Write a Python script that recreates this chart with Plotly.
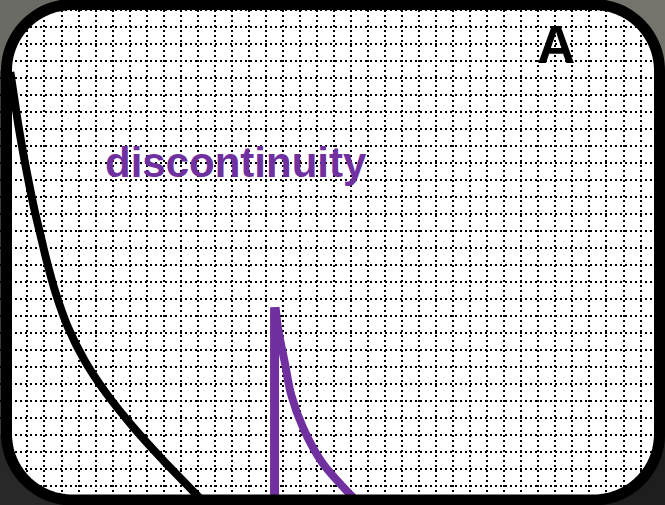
import numpy as np
import plotly.graph_objects as go

# ---- data (grid units: one grid cell = 1) ----
black_x = [-0.006, 0.153, 0.329, 0.564, 0.828, 1.110, 1.415, 1.767, 2.120, 2.660, 3.376, 4.345, 5.625, 7.222, 8.967, 10.845, 11.362]
black_y = [25.32, 24.27, 23.09, 21.62, 20.15, 18.69, 17.22, 15.75, 14.28, 12.34, 10.35, 8.41, 6.47, 4.47, 2.54, 0.60, 0.07]

purple_curve_x = [15.566, 15.731, 16.107, 16.495, 17.193, 18.291, 19.994, 20.323]
purple_curve_y = [11.52, 10.17, 8.29, 6.35, 4.42, 2.42, 0.48, 0.13]

jump_x = [15.51, 15.51]
jump_y = [11.52, -0.3]

label_text = "discontinuity"
label_pos = (13.25, 20.04)
panel_text = "A"
panel_pos = (32.05, 26.97)

# ---- layout geometry (pixel -> grid units) ----
W, H = 665, 505
G = 17.03
GX0 = 10.43
GY0 = 503.42

def px2x(px):
    return (px - GX0) / G

def py2y(py):
    return (GY0 - py) / G

PURPLE = "#7030A0"

L, R, T, B = 6.5, 659.5, 4.5, 500.0
RAD = 66.0
BORDER_W = 11

def arc(cx, cy, r, a0, a1, n=28):
    th = np.linspace(a0, a1, n)
    return [(cx + r * np.cos(t), cy + r * np.sin(t)) for t in th]

def path_from(points, close=True):
    s = "M " + " L ".join(f"{px2x(x):.4f},{py2y(y):.4f}" for x, y in points)
    return s + (" Z" if close else "")

frame_pts = []
frame_pts += arc(L + RAD, T + RAD, RAD, np.pi, 1.5 * np.pi)
frame_pts += arc(R - RAD, T + RAD, RAD, 1.5 * np.pi, 2 * np.pi)
frame_pts += arc(R - RAD, B - RAD, RAD, 0, 0.5 * np.pi)
frame_pts += arc(L + RAD, B - RAD, RAD, 0.5 * np.pi, np.pi)

E = 8
masks = [
    ("#6b6b65", [(-E, -E), (-E, T + RAD)] + arc(L + RAD, T + RAD, RAD, np.pi, 1.5 * np.pi) + [(L + RAD, -E)]),
    ("#74746d", [(W + E, -E), (R - RAD, -E)] + arc(R - RAD, T + RAD, RAD, 1.5 * np.pi, 2 * np.pi) + [(W + E, T + RAD)]),
    ("#1e1e1e", [(W + E, H + E), (W + E, B - RAD)] + arc(R - RAD, B - RAD, RAD, 0, 0.5 * np.pi) + [(R - RAD, H + E)]),
    ("#282828", [(-E, H + E), (L + RAD, H + E)] + arc(L + RAD, B - RAD, RAD, 0.5 * np.pi, np.pi) + [(-E, B - RAD)]),
]

shapes = [
    dict(type="path", path=path_from(frame_pts), xref="x", yref="y",
         fillcolor="white", line=dict(width=0), layer="below"),
]
for col, pts in masks:
    shapes.append(dict(type="path", path=path_from(pts), xref="x", yref="y",
                       fillcolor=col, line=dict(width=0), layer="above"))
shapes.append(dict(type="path", path=path_from(frame_pts), xref="x", yref="y",
                   fillcolor="rgba(0,0,0,0)", line=dict(color="black", width=BORDER_W),
                   layer="above"))

fig = go.Figure()
fig.add_trace(go.Scatter(x=black_x, y=black_y, mode="lines",
                         line=dict(color="black", width=8, shape="spline", smoothing=0.8),
                         hoverinfo="skip", showlegend=False))
fig.add_trace(go.Scatter(x=jump_x, y=jump_y, mode="lines",
                         line=dict(color=PURPLE, width=9),
                         hoverinfo="skip", showlegend=False))
fig.add_trace(go.Scatter(x=purple_curve_x, y=purple_curve_y, mode="lines",
                         line=dict(color=PURPLE, width=8, shape="spline", smoothing=1),
                         hoverinfo="skip", showlegend=False))

fig.add_annotation(x=label_pos[0], y=label_pos[1], text=label_text, showarrow=False,
                   font=dict(family="Liberation Sans, Arial", size=42, color=PURPLE, weight="bold"),
                   xanchor="center", yanchor="middle")
fig.add_annotation(x=panel_pos[0], y=panel_pos[1], text=panel_text, showarrow=False,
                   font=dict(family="Liberation Sans, Arial", size=53, color="black", weight="bold"),
                   xanchor="center", yanchor="middle")

axis_common = dict(showticklabels=False, ticks="", zeroline=False, showline=False,
                   showgrid=True, gridcolor="black", gridwidth=2, griddash="2px,3px",
                   tickmode="linear", dtick=1, tick0=0, fixedrange=True)
fig.update_layout(
    width=W, height=H, autosize=False,
    margin=dict(l=0, r=0, t=0, b=0, pad=0),
    paper_bgcolor="#3a3a38", plot_bgcolor="rgba(0,0,0,0)",
    xaxis=dict(range=[px2x(0), px2x(W)], **axis_common),
    yaxis=dict(range=[py2y(H), py2y(0)], **axis_common),
    shapes=shapes,
    showlegend=False,
)

fig.write_html("out.html", config={"displayModeBar": False},
               post_script="document.body.style.margin='0';document.body.style.overflow='hidden';")
